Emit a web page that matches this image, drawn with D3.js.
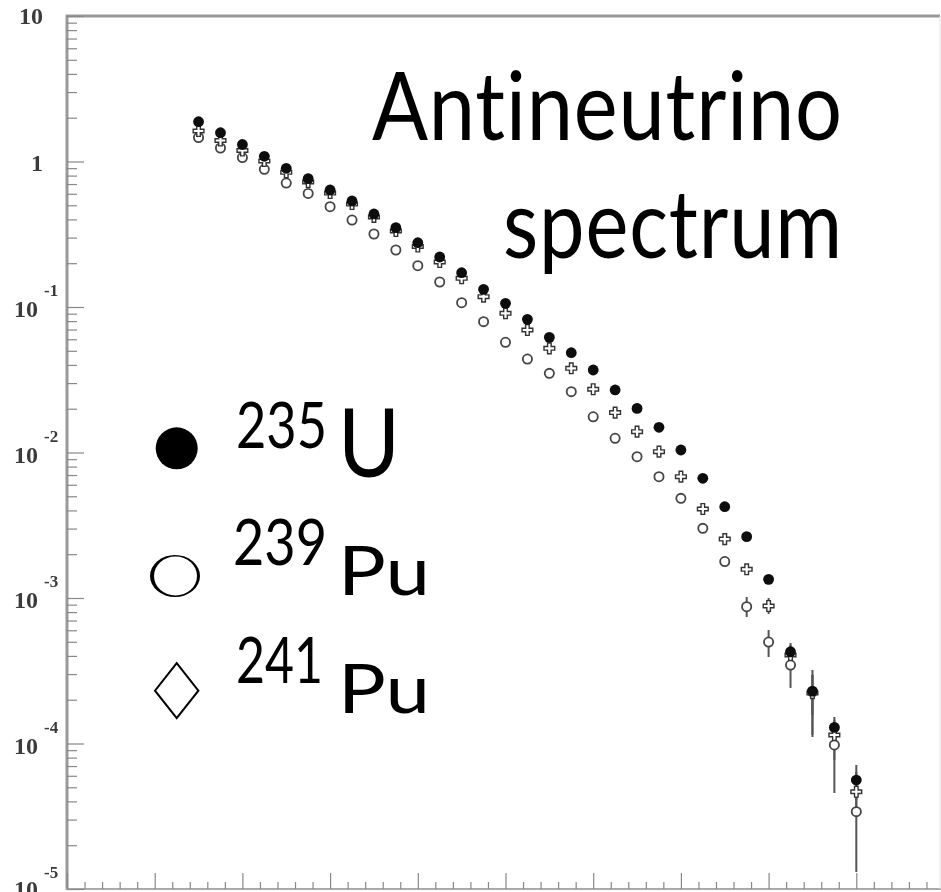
<!DOCTYPE html>
<html>
<head>
<meta charset="utf-8">
<script src="https://cdn.jsdelivr.net/npm/d3@7"></script>
<style>
body{margin:0;background:#fff;}
svg{display:block;}
text{font-variant-ligatures:none;font-feature-settings:"liga" 0, "clig" 0, "dlig" 0;}
</style>
</head>
<body>
<svg id="chart" width="941" height="892"></svg>
<script>
// antineutrino energy (MeV), one point every 0.25 MeV
var energy=[1.5,1.75,2,2.25,2.5,2.75,3,3.25,3.5,3.75,4,4.25,4.5,4.75,5,5.25,5.5,5.75,6,6.25,6.5,6.75,7,7.25,7.5,7.75,8,8.25,8.5,8.75,9];

var u235=[1.877,1.577,1.309,1.086,0.898,0.762,0.637,0.535,0.436,0.351,0.2766,0.2207,0.1721,0.1323,0.1060,0.0823,0.0619,0.0485,0.0369,0.0269,0.0201,0.0149,0.0104,0.00665,0.00424,0.00264,0.001344,0.000427,0.000229,0.000129,0.0000561];
var pu239=[1.462,1.238,1.065,0.884,0.711,0.603,0.489,0.396,0.3175,0.2465,0.1922,0.1485,0.1070,0.0793,0.0572,0.0439,0.0350,0.0262,0.0176,0.01252,0.00936,0.00682,0.00484,0.00301,0.00178,0.000871,0.000498,0.000346,0.000226,0.0000977,0.0000340];
var pu241=[1.620,1.394,1.190,1.008,0.843,0.723,0.607,0.510,0.416,0.333,0.2604,0.2039,0.1575,0.1177,0.0905,0.0695,0.0520,0.0379,0.0272,0.0188,0.0139,0.01013,0.00682,0.00409,0.00254,0.001575,0.000881,0.000406,0.000222,0.0001144,0.0000466];

// error bars, only the ones that show past the markers
var u235Err=[{e:8.25,lo:3.63e-4,hi:4.91e-4},{e:8.5,lo:1.108e-4,hi:3.20e-4},{e:8.75,lo:9.77e-5,hi:1.521e-4},{e:9,lo:4.09e-5,hi:7.12e-5}];
var pu239Err=[{e:7.75,lo:7.40e-4,hi:1.016e-3},{e:8,lo:3.93e-4,hi:6.03e-4},{e:8.25,lo:2.41e-4,hi:4.53e-4},{e:8.5,lo:1.144e-4,hi:2.96e-4},{e:8.75,lo:4.57e-5,hi:1.340e-4},{e:9,lo:1.309e-5,hi:5.61e-5}];
var pu241Err=[{e:8,lo:7.76e-4,hi:1.0e-3},{e:8.25,lo:3.30e-4,hi:4.75e-4},{e:8.5,lo:1.57e-4,hi:2.96e-4},{e:8.75,lo:7.70e-5,hi:1.45e-4},{e:9,lo:3.23e-5,hi:6.37e-5}];

var yDecades=[10,1,0.1,0.01,0.001,0.0001,0.00001];
var yLabelBase=["10","1","10","10","10","10","10"];
var yLabelSup=["","","-1","-2","-3","-4","-5"];

var titleLines=["Antineutrino","spectrum"];
var legendSup=["235","239","241"];
var legendBase=["U","Pu","Pu"];

var svg=d3.select("#chart");
var x=d3.scaleLinear().domain([0,10]).range([67,944]);
var y=d3.scaleLog().domain([1e-5,10]).range([889,16]);

svg.append("defs").append("filter").attr("id","soft")
	.attr("filterUnits","userSpaceOnUse").attr("x",0).attr("y",0).attr("width",941).attr("height",892)
	.append("feGaussianBlur").attr("stdDeviation",0.7);

var plot=svg.append("g").attr("filter","url(#soft)");

//=============frame=============
plot.append("line").attr("x1",67).attr("x2",67).attr("y1",15).attr("y2",890)
	.attr("stroke","#999").attr("stroke-width",3);
plot.append("line").attr("x1",66).attr("x2",940).attr("y1",16).attr("y2",16)
	.attr("stroke","#999").attr("stroke-width",3);
plot.append("line").attr("x1",66).attr("x2",941).attr("y1",889).attr("y2",889)
	.attr("stroke","#aaa").attr("stroke-width",2);
plot.append("line").attr("x1",940).attr("x2",940).attr("y1",16).attr("y2",889)
	.attr("stroke","#e4e4e4").attr("stroke-width",1);

//=============axes=============
var yMinor=[];
yDecades.slice(1).forEach(function(d){
	for(var k=2;k<10;k++){yMinor.push(d*k);}
});
var xMinor=d3.range(0,10.001,0.2).filter(function(v){return Math.abs(v-Math.round(v))>0.01;});

function styleAxis(g){
	g.select(".domain").remove();
	g.selectAll(".tick line").attr("stroke","#888").attr("stroke-width",1.2);
	g.selectAll(".tick text").remove();
}
plot.append("g").attr("transform","translate(67,0)")
	.call(d3.axisRight(y).tickValues(yDecades).tickSize(17).tickFormat("")).call(styleAxis);
plot.append("g").attr("transform","translate(67,0)")
	.call(d3.axisRight(y).tickValues(yMinor).tickSize(10).tickFormat("")).call(styleAxis);
plot.append("g").attr("transform","translate(0,889)")
	.call(d3.axisTop(x).tickValues(d3.range(0,11,1)).tickSize(16).tickFormat("")).call(styleAxis);
plot.append("g").attr("transform","translate(0,889)")
	.call(d3.axisTop(x).tickValues(xMinor).tickSize(7).tickFormat("")).call(styleAxis);

// y tick labels, "10" with a raised exponent
var labels=plot.append("g").attr("font-family","'Liberation Serif', 'DejaVu Serif', serif")
	.attr("font-weight","bold").attr("fill","#3a3a3a");
yDecades.forEach(function(d,i){
	var yy=y(d);
	if(yLabelSup[i]==""){
		labels.append("text").attr("x",43).attr("y",i==0?yy+8:yy+9)
			.attr("text-anchor","end").attr("font-size",24).text(yLabelBase[i]);
	}else{
		labels.append("text").attr("x",38).attr("y",i==yDecades.length-1?yy+8:yy+10)
			.attr("text-anchor","end").attr("font-size",24).text(yLabelBase[i]);
		labels.append("text").attr("x",44).attr("y",yy-11)
			.attr("font-size",17).text(yLabelSup[i]);
	}
});

//=============error bars=============
function drawErr(data){
	plot.append("g").selectAll("line").data(data)
		.enter().append("line")
		.attr("x1",function(d){return x(d.e);})
		.attr("x2",function(d){return x(d.e);})
		.attr("y1",function(d){return y(d.hi);})
		.attr("y2",function(d){return y(d.lo);})
		.attr("stroke","#555").attr("stroke-width",2);
}
drawErr(pu239Err);
drawErr(pu241Err);
drawErr(u235Err);

//=============points=============
plot.append("g").selectAll("circle").data(pu239)
	.enter().append("circle")
	.attr("cx",function(d,i){return x(energy[i]);})
	.attr("cy",function(d){return y(d);})
	.attr("r",4.6)
	.attr("fill","#fff").attr("stroke","#444").attr("stroke-width",1.8);

var cross=d3.symbol().type(d3.symbolCross).size(64);
plot.append("g").selectAll("path").data(pu241)
	.enter().append("path")
	.attr("d",cross)
	.attr("transform",function(d,i){return "translate("+x(energy[i])+","+y(d)+")";})
	.attr("fill","#fff").attr("stroke","#333").attr("stroke-width",1.4);

plot.append("g").selectAll("circle").data(u235)
	.enter().append("circle")
	.attr("cx",function(d,i){return x(energy[i]);})
	.attr("cy",function(d){return y(d);})
	.attr("r",5.4)
	.attr("fill","#0a0a0a");

//=============title=============
// letter-spacing keeps Lato from fusing "ti"
var font="Lato, 'Open Sans', sans-serif";
svg.append("text").attr("x",372).attr("y",140).attr("font-family",font).attr("font-size",95)
	.attr("letter-spacing",1)
	.attr("textLength",471).attr("lengthAdjust","spacingAndGlyphs").attr("fill","#000").text(titleLines[0]);
svg.append("text").attr("x",503).attr("y",258).attr("font-family",font).attr("font-size",95)
	.attr("letter-spacing",1)
	.attr("textLength",340).attr("lengthAdjust","spacingAndGlyphs").attr("fill","#000").text(titleLines[1]);

//=============legend=============
var leg=svg.append("g");
leg.append("circle").attr("cx",176.7).attr("cy",448.3).attr("r",21).attr("fill","#000");
leg.append("ellipse").attr("cx",175).attr("cy",576).attr("rx",25).attr("ry",21).attr("fill","#000");
leg.append("ellipse").attr("cx",175.5).attr("cy",576).attr("rx",21.5).attr("ry",19.5).attr("fill","#fff");
leg.append("path").attr("d","M176.7,663.2 L198.4,690.7 L176.7,718.2 L155,690.7 Z")
	.attr("fill","#fff").attr("stroke","#000").attr("stroke-width",2);

var supX=[236,233,236], supY=[448,565,683], supLen=[91,94,87];
var baseY=[477,595,713], baseSize=[95,68,68], baseLen=[62,92,92];
legendSup.forEach(function(s,i){
	leg.append("text").attr("x",supX[i]).attr("y",supY[i]).attr("font-family",font).attr("font-size",63)
		.attr("textLength",supLen[i]).attr("lengthAdjust","spacingAndGlyphs").text(s);
	leg.append("text").attr("x",338).attr("y",baseY[i]).attr("font-family",font).attr("font-size",baseSize[i])
		.attr("textLength",baseLen[i]).attr("lengthAdjust","spacingAndGlyphs").text(legendBase[i]);
});
</script>
</body>
</html>
